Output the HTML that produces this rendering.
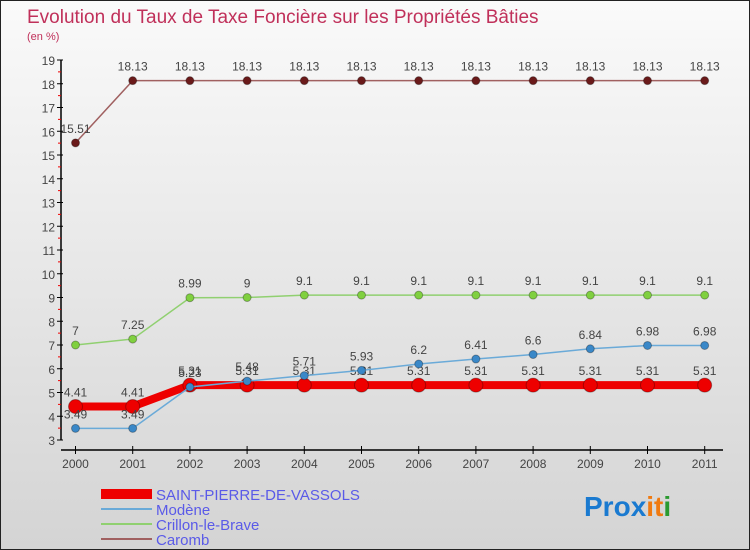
<!DOCTYPE html>
<html><head><meta charset="utf-8"><style>
body{margin:0;}
#c{width:748px;height:548px;border:1px solid #222;background:linear-gradient(#fafafa,#d4d4d4);position:relative;font-family:"Liberation Sans",sans-serif;overflow:hidden}
svg{position:absolute;left:0;top:0}
</style></head><body>
<div id="c">
<svg id="s" width="748" height="548">
<text x="26" y="22" font-size="19" fill="#c0305a">Evolution du Taux de Taxe Foncière sur les Propriétés Bâties</text>
<text x="26" y="39" font-size="11" fill="#c0305a">(en %)</text>
<text x="583" y="515" font-size="28" font-weight="bold" font-family="Liberation Sans,sans-serif"><tspan fill="#1a7ad0">Pro</tspan><tspan fill="#1a7ad0">x</tspan><tspan fill="#f07a10">it</tspan><tspan fill="#2a9a30">i</tspan></text>
</svg>
</div>
<script>
const years=['2000','2001','2002','2003','2004','2005','2006','2007','2008','2009','2010','2011'];
const yTicks=[3,4,5,6,7,8,9,10,11,12,13,14,15,16,17,18,19];
const saint=[4.41,4.41,5.31,5.31,5.31,5.31,5.31,5.31,5.31,5.31,5.31,5.31];
const modene=[3.49,3.49,5.23,5.48,5.71,5.93,6.2,6.41,6.6,6.84,6.98,6.98];
const crillon=[7,7.25,8.99,9,9.1,9.1,9.1,9.1,9.1,9.1,9.1,9.1];
const caromb=[15.51,18.13,18.13,18.13,18.13,18.13,18.13,18.13,18.13,18.13,18.13,18.13];
const svg=document.getElementById('s');const NS='http://www.w3.org/2000/svg';
const X=i=>74.5+i*57.2, Y=v=>59+(19-v)*23.75;
function mk(t,a,p){const e=document.createElementNS(NS,t);for(const k in a)e.setAttribute(k,a[k]);(p||svg).appendChild(e);return e;}
const ax=mk('g',{});


mk('line',{x1:60,y1:Y(19),x2:60,y2:Y(3),stroke:'#000','stroke-width':1.5},ax);
yTicks.forEach(v=>{mk('line',{x1:56,y1:Y(v),x2:62,y2:Y(v),stroke:'#000'},ax);
 if(v<19)mk('line',{x1:57,y1:Y(v+0.5),x2:60,y2:Y(v+0.5),stroke:'#e00'},ax);
 const t=mk('text',{x:54,y:Y(v)+5,'font-size':12,fill:'#444','text-anchor':'end'},ax);t.textContent=v;
 
 });
mk('line',{x1:60,y1:449,x2:722,y2:449,stroke:'#000','stroke-width':1.5},ax);
years.forEach((y,i)=>{mk('line',{x1:X(i),y1:445,x2:X(i),y2:453,stroke:'#000'},ax);
 const t=mk('text',{x:X(i),y:467,'font-size':12,fill:'#444','text-anchor':'middle'},ax);t.textContent=y;
 
 });
function series(name,data,color,w,r,fill,dy){
 const g=mk('g',{});
 
 
 mk('polyline',{points:data.map((v,i)=>X(i)+','+Y(v)).join(' '),fill:'none',stroke:color,'stroke-width':w},g);
 data.forEach((v,i)=>{const c=mk('circle',{cx:X(i),cy:Y(v),r:r,fill:fill,stroke:'rgba(0,0,0,0.3)'},g);
  
  
  const t=mk('text',{x:X(i),y:Y(v)+dy,'font-size':12,fill:'#444','text-anchor':'middle'},g);t.textContent=v;
  
  });
}
series('series-caromb',caromb,'#a06060',1.5,4,'#6a1a1a',-10);
series('series-crillon',crillon,'#90d070',1.5,4,'#80d040',-10);
series('series-saint-pierre',saint,'#ee0000',8,7,'#ee0000',-10);
series('series-modene',modene,'#6aaad8',1.5,4,'#3a88c8',-10);
const lg=[['SAINT-PIERRE-DE-VASSOLS','#ee0000',10],['Modène','#6aaad8',2],['Crillon-le-Brave','#90d070',2],['Caromb','#a06060',2]];
lg.forEach((l,i)=>{const g=mk('g',{});
 
 
 const y=493+i*15;
 mk('line',{x1:100,y1:y,x2:151,y2:y,stroke:l[1],'stroke-width':l[2]},g);
 const t=mk('text',{x:155,y:y+6,'font-size':15,fill:'#5a5ae8'},g);t.textContent=l[0];});
</script>
</body></html>
